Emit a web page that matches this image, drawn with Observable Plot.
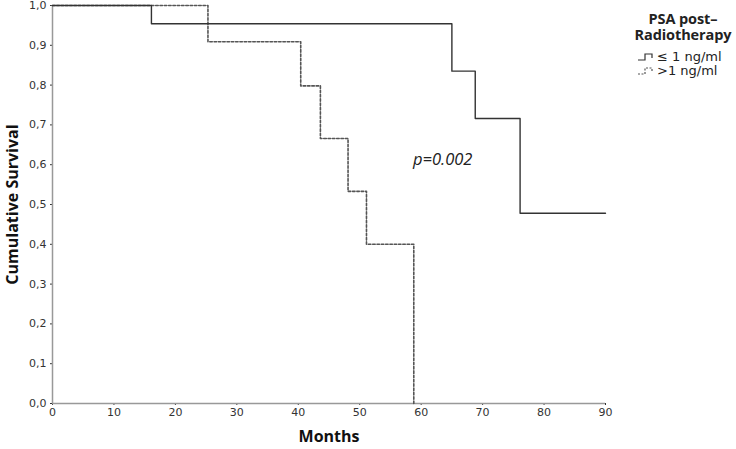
<!DOCTYPE html>
<html>
<head>
<meta charset="utf-8">
<script src="https://cdn.jsdelivr.net/npm/d3@7"></script>
<script src="https://cdn.jsdelivr.net/npm/@observablehq/plot@0.6"></script>
<style>
  html, body { margin: 0; padding: 0; background: #fff; }
  #wrap { position: relative; width: 736px; height: 449px; font-family: "DejaVu Sans", sans-serif; }
  #legend { position: absolute; left: 628px; top: 11px; width: 110px; color: #222; }
  #legend .title { font-family: "Open Sans", "DejaVu Sans", sans-serif; font-weight: 700; font-size: 14.5px; line-height: 16px; text-align: center; letter-spacing: -0.1px; }
  #legend .item { display: flex; align-items: center; font-size: 13px; margin-left: 9px; height: 14px; line-height: 14px; }
  #legend .item svg { margin-right: 2px; }
</style>
</head>
<body>
<div id="wrap"></div>
<script>
// Group: PSA post-Radiotherapy <= 1 ng/ml
const lowTimes = [0, 16.1, 65.0, 68.8, 76.1, 90];
const lowSurv  = [1.0, 0.954, 0.835, 0.716, 0.478, 0.478];
// Group: PSA post-Radiotherapy > 1 ng/ml
const highTimes = [0, 25.3, 40.4, 43.6, 48.1, 51.1, 58.8];
const highSurv  = [1.0, 0.909, 0.798, 0.666, 0.533, 0.400, 0.0];

const groupNames = ["≤ 1 ng/ml", ">1 ng/ml"];
const xTicks = [0, 10, 20, 30, 40, 50, 60, 70, 80, 90];
const yTicks = [0, 0.1, 0.2, 0.3, 0.4, 0.5, 0.6, 0.7, 0.8, 0.9, 1.0];

const pLabel = ["p=0.002"];
const pLabelX = [63.5];
const pLabelY = [0.613];

const low = lowTimes.map((t, i) => ({t, s: lowSurv[i]}));
const high = highTimes.map((t, i) => ({t, s: highSurv[i]}));

const chart = Plot.plot({
  width: 736,
  height: 449,
  marginLeft: 52,
  marginRight: 131,
  marginTop: 5,
  marginBottom: 46,
  style: {fontFamily: "DejaVu Sans, sans-serif", fontSize: "11px", color: "#333", background: "#fff"},
  x: {domain: [0, 90], ticks: xTicks, tickSize: 2, tickPadding: 3, label: null},
  y: {domain: [0, 1], ticks: yTicks, tickSize: 2, tickPadding: 4, label: null,
      tickFormat: d => d.toFixed(1).replace(".", ",")},
  marks: [
    Plot.ruleX([0], {stroke: "#999", strokeWidth: 1.5}),
    Plot.ruleY([0], {stroke: "#999", strokeWidth: 1.5}),
    Plot.line(high, {x: "t", y: "s", curve: "step-after", stroke: "#555", strokeWidth: 1.6, strokeDasharray: "2.5,1.8"}),
    Plot.line(low, {x: "t", y: "s", curve: "step-after", stroke: "#333", strokeWidth: 1.4}),
    Plot.text(pLabel, {x: pLabelX, y: pLabelY, text: d => d, fontSize: 16.5, fontStyle: "italic", fill: "#222", fontFamily: "Open Sans, DejaVu Sans, sans-serif"}),
    Plot.text(["Cumulative Survival"], {frameAnchor: "left", textAnchor: "middle", dx: -40, rotate: -90, text: d => d, fontSize: 16, fontWeight: "bold", fill: "#111", fontFamily: "Open Sans, DejaVu Sans, sans-serif"}),
    Plot.text(["Months"], {frameAnchor: "bottom", textAnchor: "middle", dy: 38, text: d => d, fontSize: 16, fontWeight: "bold", fill: "#111", fontFamily: "Open Sans, DejaVu Sans, sans-serif"})
  ]
});

const wrap = document.getElementById("wrap");
wrap.appendChild(chart);

const legend = document.createElement("div");
legend.id = "legend";
legend.innerHTML = `
  <div class="title">PSA post–<br>Radiotherapy</div>
  <div style="height:7px"></div>
  <div class="item"><svg width="18" height="10"><path d="M1,8 H8 V2 H15 V6" fill="none" stroke="#333" stroke-width="1.2"/></svg><span>${groupNames[0]}</span></div>
  <div class="item"><svg width="18" height="10"><path d="M1,8 H8 V2 H15 V6" fill="none" stroke="#555" stroke-width="1.2" stroke-dasharray="2,1.5"/></svg><span>${groupNames[1]}</span></div>
`;
wrap.appendChild(legend);
</script>
</body>
</html>
